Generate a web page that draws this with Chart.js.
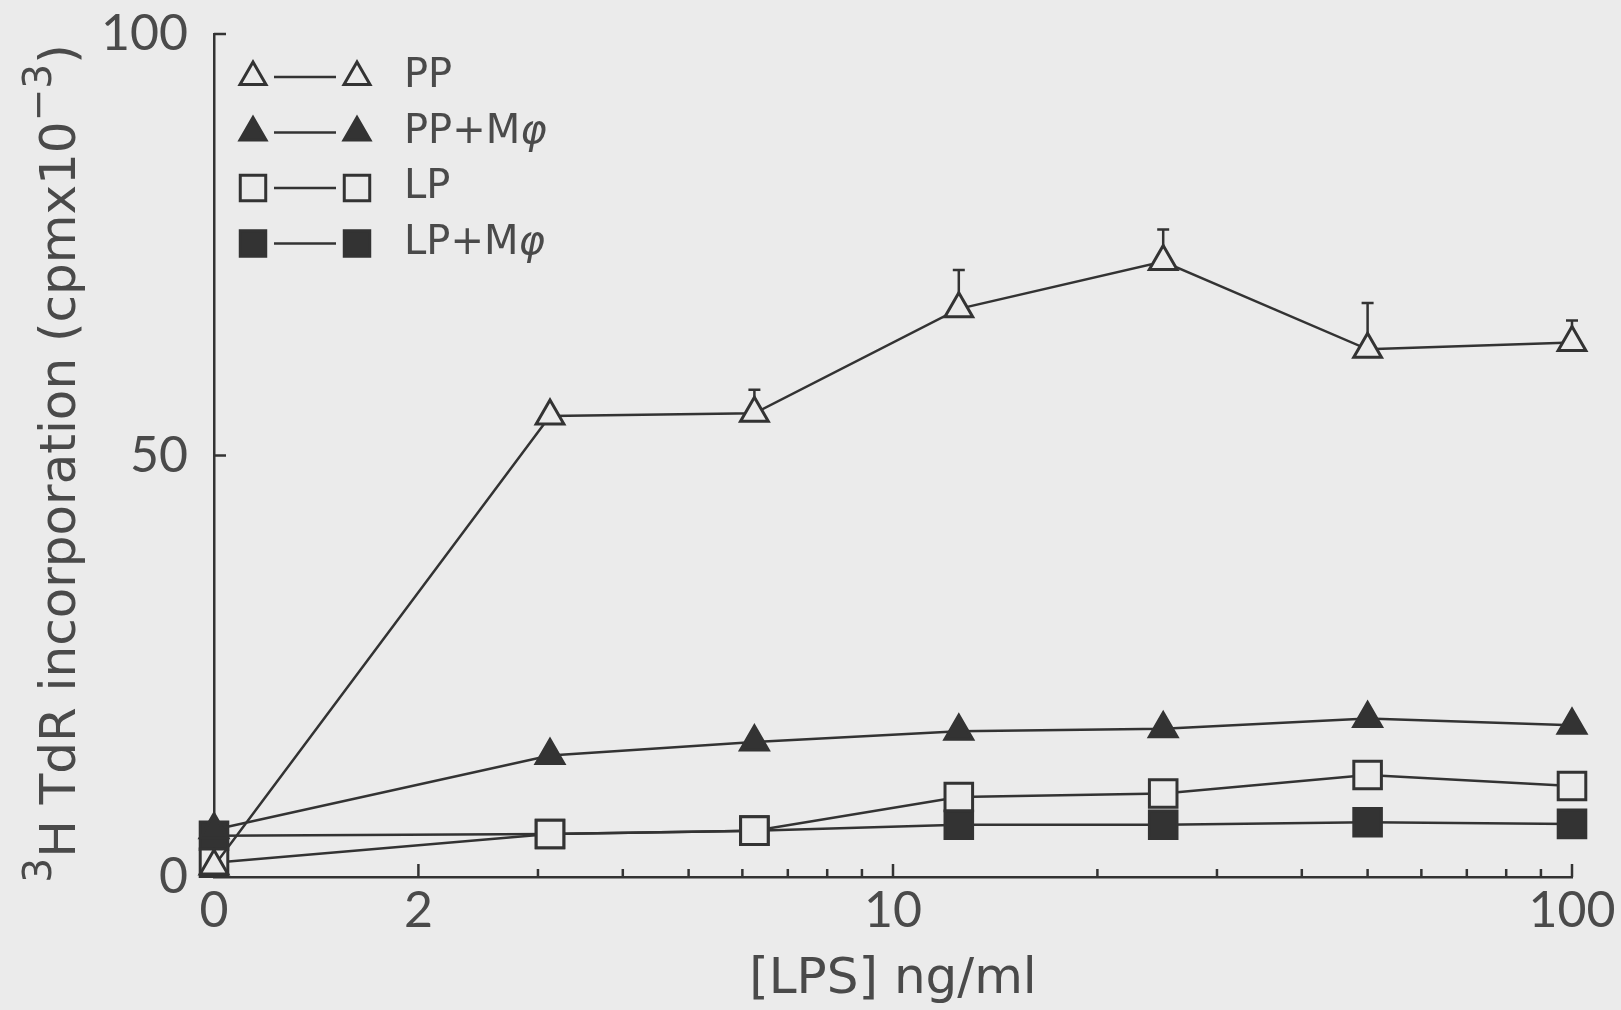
<!DOCTYPE html>
<html>
<head>
<meta charset="utf-8">
<script src="https://cdn.jsdelivr.net/npm/chart.js@4/dist/chart.umd.min.js"></script>
<style>
  html, body { margin: 0; padding: 0; background: #ebebeb; }
  #wrap { width: 1621px; height: 1010px; }
</style>
</head>
<body>
<div id="wrap"><canvas id="c" width="1621" height="1010"></canvas></div>
<script>
// LPS dose (ng/ml); the "0" dose sits at the origin of the log axis (1)
const doses = [1, 3.125, 6.25, 12.5, 25, 50, 100];
const ppValues = [1.3, 54.7, 55.0, 67.4, 73.0, 62.6, 63.4];
const ppErr = [null, null, 2.8, 4.6, 3.8, 5.5, 2.6];
const ppMacValues = [5.6, 14.4, 16.0, 17.3, 17.6, 18.8, 18.0];
const lpValues = [1.7, 5.1, 5.5, 9.5, 9.9, 12.1, 10.8];
const lpMacValues = [4.9, 5.1, 5.5, 6.2, 6.2, 6.5, 6.3];
const seriesLabels = ['PP', 'PP+M', 'LP', 'LP+M'];
const xTickValues = [1, 2, 3, 4, 5, 6, 7, 8, 9, 10, 20, 30, 40, 50, 60, 70, 80, 90, 100];
const xTickLabels = { 1: '0', 2: '2', 10: '10', 100: '100' };

const bg = '#ebebeb';
const ink = '#333333';
const textInk = '#4a4a4a';
const tickFont = 'Lato';
const titleFont = '"DejaVu Sans"';

function series(label, values, style, filled, radius) {
    return {
        label,
        data: doses.map((d, i) => ({ x: d, y: values[i] })),
        borderColor: ink,
        borderWidth: 2.5,
        pointStyle: style,
        pointRadius: radius,
        pointHoverRadius: radius,
        pointBorderWidth: 3,
        pointBackgroundColor: filled ? ink : bg,
        pointBorderColor: ink,
        tension: 0,
        clip: false,
    };
}

const datasets = [
    series(seriesLabels[0], ppValues, 'triangle', false, 16),
    series(seriesLabels[1], ppMacValues, 'triangle', true, 16),
    series(seriesLabels[2], lpValues, 'rect', false, 19.5),
    series(seriesLabels[3], lpMacValues, 'rect', true, 19.5),
];

const background = {
    id: 'background',
    beforeDraw(chart) {
        const ctx = chart.ctx;
        ctx.save();
        ctx.fillStyle = bg;
        ctx.fillRect(0, 0, chart.width, chart.height);
        ctx.restore();
    },
};

// upward-only error bars for PP, drawn under the markers
const errorBars = {
    id: 'errorBars',
    beforeDatasetsDraw(chart) {
        const { ctx, scales: { x, y } } = chart;
        ctx.save();
        ctx.strokeStyle = ink;
        ctx.lineWidth = 2.5;
        ppErr.forEach((e, i) => {
            if (e == null) return;
            const px = x.getPixelForValue(doses[i]);
            const py = y.getPixelForValue(ppValues[i]);
            const top = y.getPixelForValue(ppValues[i] + e);
            ctx.beginPath();
            ctx.moveTo(px, py);
            ctx.lineTo(px, top);
            ctx.moveTo(px - 6, top);
            ctx.lineTo(px + 6, top);
            ctx.stroke();
        });
        ctx.restore();
    },
};

// tick marks pointing into the plot
const innerTicks = {
    id: 'innerTicks',
    afterDraw(chart) {
        const { ctx, chartArea, scales: { x, y } } = chart;
        ctx.save();
        ctx.strokeStyle = ink;
        ctx.lineWidth = 2.5;
        x.ticks.forEach((t) => {
            if (t.value === 1) return;
            const px = x.getPixelForValue(t.value);
            const len = (t.value === 10 || t.value === 100 || t.value === 2) ? 13 : 8;
            ctx.beginPath();
            ctx.moveTo(px, chartArea.bottom);
            ctx.lineTo(px, chartArea.bottom - len);
            ctx.stroke();
        });
        y.ticks.forEach((t) => {
            if (t.value === 0) return;
            const py = y.getPixelForValue(t.value);
            ctx.beginPath();
            ctx.moveTo(chartArea.left, py);
            ctx.lineTo(chartArea.left + 12, py);
            ctx.stroke();
        });
        ctx.restore();
    },
};

function drawMixed(ctx, parts, x, y, size) {
    let cx = x;
    parts.forEach((p) => {
        const s = p.sup ? size * 0.78 : size;
        ctx.font = `${p.italic ? 'italic ' : ''}${s}px ${titleFont}`;
        ctx.fillText(p.t, cx, y - (p.sup ? size * 0.42 : 0));
        cx += ctx.measureText(p.t).width;
    });
    return cx;
}

function mixedWidth(ctx, parts, size) {
    let w = 0;
    parts.forEach((p) => {
        const s = p.sup ? size * 0.78 : size;
        ctx.font = `${p.italic ? 'italic ' : ''}${s}px ${titleFont}`;
        w += ctx.measureText(p.t).width;
    });
    return w;
}

const titles = {
    id: 'titles',
    afterDraw(chart) {
        const { ctx, chartArea } = chart;
        ctx.save();
        ctx.fillStyle = textInk;
        ctx.textBaseline = 'middle';
        ctx.textAlign = 'left';

        // y axis title, rotated
        const yParts = [
            { t: '3', sup: true },
            { t: 'H TdR incorporation (cpmx10' },
            { t: '\u22123', sup: true },
            { t: ')' },
        ];
        const ySize = 50;
        const yw = mixedWidth(ctx, yParts, ySize);
        ctx.save();
        ctx.translate(62, (chartArea.top + chartArea.bottom) / 2 + 8);
        ctx.rotate(-Math.PI / 2);
        drawMixed(ctx, yParts, -yw / 2, 0, ySize);
        ctx.restore();

        // x axis title
        ctx.textAlign = 'center';
        ctx.font = `50px ${titleFont}`;
        ctx.fillText('[LPS] ng/ml', (chartArea.left + chartArea.right) / 2, chartArea.bottom + 103);

        // legend: marker — marker label
        ctx.textAlign = 'left';
        datasets.forEach((ds, i) => {
            const ly = chartArea.top + 43 + i * 55.5;
            const opts = {
                pointStyle: ds.pointStyle,
                radius: ds.pointStyle === 'rect' ? 18 : 15,
                borderWidth: 3,
            };
            ctx.strokeStyle = ink;
            ctx.lineWidth = 2.5;
            ctx.beginPath();
            ctx.moveTo(chartArea.left + 60, ly);
            ctx.lineTo(chartArea.left + 122, ly);
            ctx.stroke();
            [chartArea.left + 39, chartArea.left + 143].forEach((mx) => {
                ctx.fillStyle = ds.pointBackgroundColor;
                ctx.strokeStyle = ink;
                ctx.lineWidth = 3;
                Chart.helpers.drawPoint(ctx, opts, mx, ly);
            });
            ctx.fillStyle = textInk;
            const parts = [{ t: ds.label }];
            if (ds.label.endsWith('M')) parts.push({ t: '\u03c6', italic: true });
            drawMixed(ctx, parts, chartArea.left + 190, ly, 40);
        });
        ctx.restore();
    },
};

new Chart(document.getElementById('c'), {
    type: 'line',
    data: { datasets },
    options: {
        responsive: false,
        animation: false,
        devicePixelRatio: 1,
        layout: { padding: { top: 34, right: 49, bottom: 0, left: 0 } },
        plugins: {
            legend: { display: false },
            tooltip: { enabled: false },
        },
        scales: {
            x: {
                type: 'logarithmic',
                min: 1,
                max: 100,
                afterBuildTicks: (scale) => {
                    scale.ticks = xTickValues.map((v) => ({ value: v }));
                },
                afterFit: (scale) => { scale.height = 133; },
                grid: { display: true, drawOnChartArea: false, drawTicks: true, tickLength: 4, color: 'rgba(0,0,0,0)' },
                border: { display: true, color: ink, width: 2.5 },
                ticks: {
                    autoSkip: false,
                    maxRotation: 0,
                    padding: 0,
                    color: textInk,
                    font: { family: tickFont, size: 50 },
                    callback: (v) => xTickLabels[v] || '',
                },
            },
            y: {
                min: 0,
                max: 100,
                afterFit: (scale) => { scale.width = 214; },
                grid: { display: true, drawOnChartArea: false, drawTicks: true, tickLength: 26, color: 'rgba(0,0,0,0)' },
                border: { display: true, color: ink, width: 2.5 },
                ticks: {
                    stepSize: 50,
                    padding: 0,
                    color: textInk,
                    font: { family: tickFont, size: 50 },
                },
            },
        },
    },
    plugins: [background, errorBars, innerTicks, titles],
});
</script>
</body>
</html>
